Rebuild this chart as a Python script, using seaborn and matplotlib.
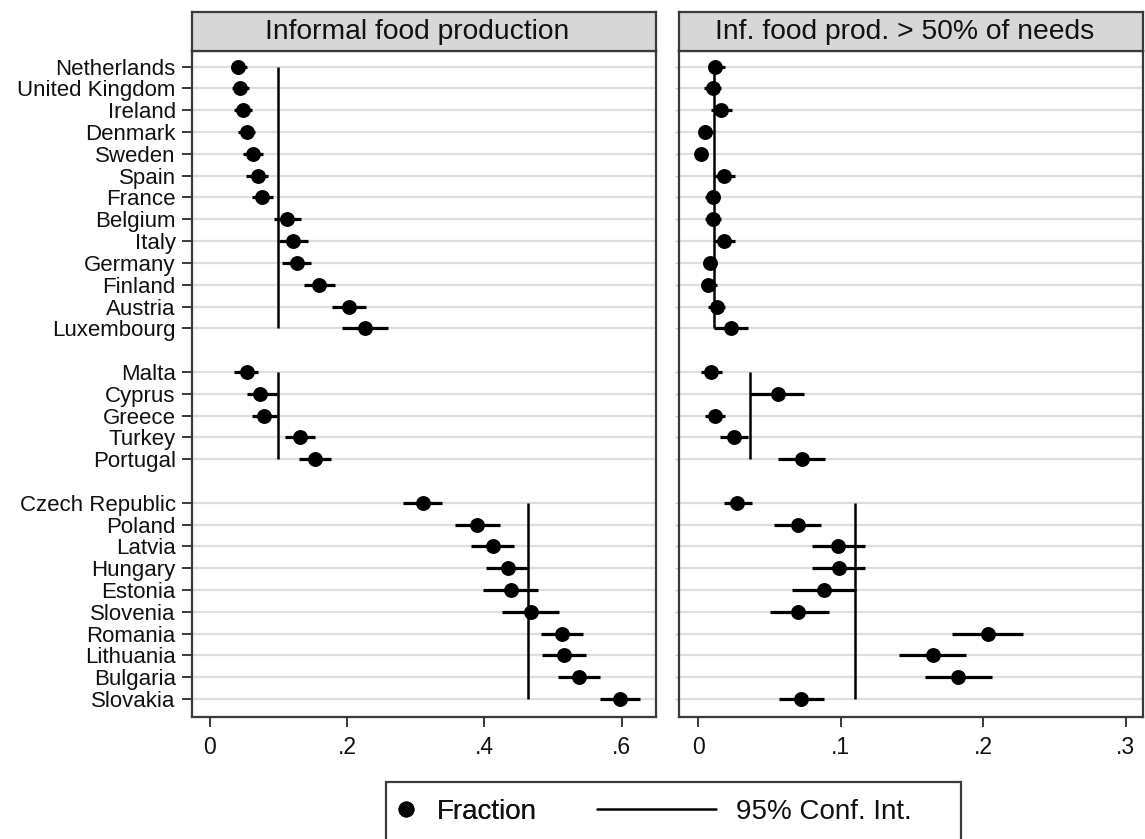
import numpy as np
import pandas as pd
import matplotlib
matplotlib.use("Agg")
import matplotlib.pyplot as plt
import seaborn as sns
from matplotlib.lines import Line2D
from matplotlib.patches import Rectangle

sns.set_theme(style="white")
plt.rcParams['font.family'] = ['Liberation Sans', 'DejaVu Sans']

# ---------------- data ----------------
group1 = ["Netherlands", "United Kingdom", "Ireland", "Denmark", "Sweden", "Spain",
          "France", "Belgium", "Italy", "Germany", "Finland", "Austria", "Luxembourg"]
group2 = ["Malta", "Cyprus", "Greece", "Turkey", "Portugal"]
group3 = ["Czech Republic", "Poland", "Latvia", "Hungary", "Estonia", "Slovenia",
          "Romania", "Lithuania", "Bulgaria", "Slovakia"]

# Informal food production (fraction, 95% CI)
inf_frac = [0.042, 0.044, 0.048, 0.054, 0.063, 0.070, 0.076, 0.113, 0.122, 0.127, 0.159, 0.203, 0.226,
            0.054, 0.074, 0.079, 0.131, 0.153,
            0.310, 0.389, 0.412, 0.434, 0.438, 0.468, 0.513, 0.516, 0.538, 0.598]
inf_lo = [0.031, 0.033, 0.036, 0.042, 0.049, 0.053, 0.061, 0.094, 0.101, 0.106, 0.137, 0.178, 0.193,
          0.036, 0.054, 0.062, 0.110, 0.130,
          0.281, 0.357, 0.381, 0.402, 0.398, 0.426, 0.482, 0.484, 0.507, 0.568]
inf_hi = [0.054, 0.057, 0.061, 0.066, 0.078, 0.085, 0.092, 0.133, 0.143, 0.147, 0.183, 0.228, 0.260,
          0.071, 0.098, 0.098, 0.153, 0.177,
          0.338, 0.422, 0.443, 0.463, 0.478, 0.508, 0.544, 0.548, 0.568, 0.627]
inf_means = [0.100, 0.100, 0.464]

# Informal food production > 50% of needs (fraction, 95% CI)
half_frac = [0.012, 0.010, 0.016, 0.005, 0.002, 0.018, 0.010, 0.010, 0.018, 0.008, 0.007, 0.013, 0.023,
             0.009, 0.056, 0.012, 0.025, 0.073,
             0.027, 0.070, 0.098, 0.099, 0.088, 0.070, 0.203, 0.165, 0.182, 0.072]
half_lo = [0.007, 0.004, 0.009, 0.001, 0.000, 0.011, 0.005, 0.005, 0.011, 0.003, 0.002, 0.007, 0.011,
           0.002, 0.036, 0.005, 0.015, 0.056,
           0.018, 0.053, 0.080, 0.080, 0.066, 0.050, 0.178, 0.141, 0.159, 0.057]
half_hi = [0.019, 0.016, 0.024, 0.010, 0.006, 0.026, 0.015, 0.016, 0.026, 0.013, 0.013, 0.019, 0.035,
           0.017, 0.074, 0.019, 0.035, 0.089,
           0.038, 0.086, 0.117, 0.117, 0.111, 0.092, 0.228, 0.188, 0.206, 0.088]
half_means = [0.011, 0.036, 0.110]

panel_titles = ["Informal food production", "Inf. food prod. > 50% of needs"]
left_ticks = [0, 0.2, 0.4, 0.6]
left_ticklabels = ["0", ".2", ".4", ".6"]
right_ticks = [0, 0.1, 0.2, 0.3]
right_ticklabels = ["0", ".1", ".2", ".3"]
legend_labels = ["Fraction", "95% Conf. Int."]

# ---------------- table ----------------
groups = [group1, group2, group3]
rows, ypos, gid = [], [], []
p = 0
for gi, g in enumerate(groups):
    for c in g:
        rows.append(c)
        ypos.append(p)
        gid.append(gi)
        p += 1
    p += 1  # blank row between groups

df = pd.DataFrame({"country": rows, "y": ypos, "group": gid,
                   "inf": inf_frac, "inf_lo": inf_lo, "inf_hi": inf_hi,
                   "half": half_frac, "half_lo": half_lo, "half_hi": half_hi})

# ---------------- figure ----------------
W, H = 1145, 839
fig = plt.figure(figsize=(W / 100, H / 100), dpi=100)
fig.patch.set_facecolor("white")

plot_top, plot_bot = 50.7, 716.7
hdr_top = 11.7
panels_x = [(192.3, 656.0), (679.3, 1143.0)]
frame_col = "#3a3a3a"

specs = [
    ("inf", "inf_lo", "inf_hi", inf_means, (-0.0252, 0.6498), left_ticks, left_ticklabels),
    ("half", "half_lo", "half_hi", half_means, (-0.0133, 0.3121), right_ticks, right_ticklabels),
]

axes = []
for i, ((x0, x1), spec) in enumerate(zip(panels_x, specs)):
    col, lo, hi, means, xlim, ticks, tlabels = spec
    ax = fig.add_axes([x0 / W, 1 - plot_bot / H, (x1 - x0) / W, (plot_bot - plot_top) / H])
    axes.append(ax)
    for y in df["y"]:
        ax.axhline(y, color="#dedede", lw=1.6, zorder=0)
    ax.hlines(df["y"], df[lo], df[hi], color="black", lw=2.3, zorder=2)
    for gi, m in enumerate(means):
        sub = df[df["group"] == gi]
        ax.vlines(m, sub["y"].min(), sub["y"].max(), color="black", lw=1.8, zorder=2)
    sns.scatterplot(data=df, x=col, y="y", color="black", s=115, linewidth=0,
                    marker="o", zorder=3, ax=ax, legend=False)
    ax.set_xlim(*xlim)
    ax.set_ylim(29.81, -0.73)
    ax.set_xticks(ticks)
    ax.set_xticklabels(tlabels, fontsize=16.5)
    ax.set_yticks(df["y"])
    if i == 0:
        ax.set_yticklabels(df["country"], fontsize=16)
        ax.tick_params(axis="y", length=7, width=1.4, color=frame_col, pad=5, left=True)
    else:
        ax.set_yticklabels([])
        ax.tick_params(axis="y", length=3, width=1.0, color="#c8c8c8", left=True)
    ax.tick_params(axis="x", length=7, width=1.4, color=frame_col, pad=7, bottom=True,
                   labelcolor="#111111")
    ax.tick_params(axis="y", labelcolor="#111111")
    ax.set_xlabel("")
    ax.set_ylabel("")
    for s in ax.spines.values():
        s.set_color(frame_col)
        s.set_linewidth(1.6)
    ax.set_facecolor("white")

    # header strip
    hax = fig.add_axes([x0 / W, 1 - plot_top / H, (x1 - x0) / W, (plot_top - hdr_top) / H])
    hax.set_facecolor("#d7d7d7")
    hax.set_xticks([])
    hax.set_yticks([])
    for s in hax.spines.values():
        s.set_color(frame_col)
        s.set_linewidth(1.6)
    hax.text(0.485, 0.47, panel_titles[i], ha="center", va="center", fontsize=20.3,
             color="#111111", transform=hax.transAxes)

# ---------------- legend ----------------
leg_y = 1 - 811.7 / H
h_dot = Line2D([], [], marker="o", color="black", linestyle="none", markersize=10.5)
h_line = Line2D([], [], color="black", lw=1.8)
leg1 = fig.legend([h_dot], [legend_labels[0]], loc="center left",
                  bbox_to_anchor=(396.0 / W, leg_y), frameon=False, fontsize=20,
                  handlelength=0.75, handletextpad=0.7, borderpad=0, borderaxespad=0)
leg2 = fig.legend([h_line], [legend_labels[1]], loc="center left",
                  bbox_to_anchor=(596.7 / W, leg_y), frameon=False, fontsize=20,
                  handlelength=4.3, handletextpad=0.7, borderpad=0, borderaxespad=0)
for lg in (leg1, leg2):
    for t in lg.get_texts():
        t.set_color("#111111")
fig.add_artist(leg1)
fig.patches.append(Rectangle((386.0 / W, 1 - 846.0 / H), (960.7 - 386.0) / W, (846.0 - 781.7) / H,
                             transform=fig.transFigure, facecolor="none",
                             edgecolor=frame_col, lw=1.6, figure=fig))

fig.savefig("out.png", dpi=100, facecolor="white")
